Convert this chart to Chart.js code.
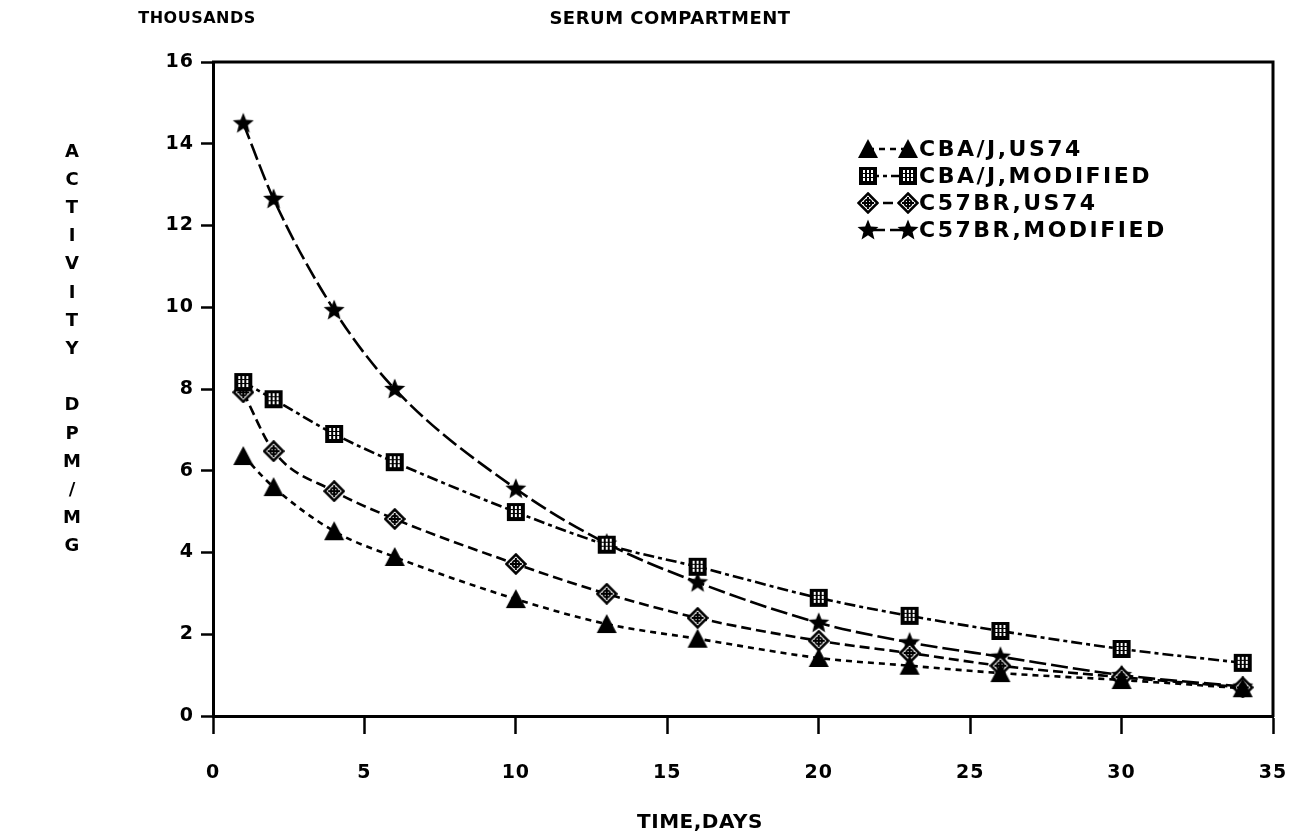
<!DOCTYPE html>
<html>
<head>
<meta charset="utf-8">
<script src="https://cdn.jsdelivr.net/npm/chart.js@4.4.0/dist/chart.umd.min.js"></script>
<style>
    html, body {margin: 0; padding: 0; background: #fff;}
    canvas {display: block;}
</style>
</head>
<body>
<canvas id="serumChart" width="1299" height="839"></canvas>
<script>
const days = [1, 2, 4, 6, 10, 13, 16, 20, 23, 26, 30, 34];
const cbaUs74 = [6.36, 5.6, 4.52, 3.89, 2.86, 2.25, 1.89, 1.42, 1.23, 1.05, 0.88, 0.68];
const cbaModified = [8.17, 7.75, 6.9, 6.21, 4.99, 4.19, 3.65, 2.89, 2.45, 2.08, 1.64, 1.3];
const c57Us74 = [7.92, 6.48, 5.5, 4.82, 3.72, 2.99, 2.4, 1.84, 1.54, 1.23, 0.95, 0.7];
const c57Modified = [14.5, 12.65, 9.93, 8.0, 5.56, 4.22, 3.27, 2.28, 1.8, 1.45, 1.0, 0.72];

const seriesNames = ["CBA/J,US74", "CBA/J,MODIFIED", "C57BR,US74", "C57BR,MODIFIED"];
const xTicks = [0, 5, 10, 15, 20, 25, 30, 35];
const yTicks = [0, 2, 4, 6, 8, 10, 12, 14, 16];

const FONT = "'DejaVu Sans', sans-serif";

function makeMarker(kind) {
    const c = document.createElement("canvas");
    c.width = 22;
    c.height = 22;
    const g = c.getContext("2d");
    g.fillStyle = "#000";
    g.strokeStyle = "#000";
    if (kind === "triangle") {
        g.beginPath();
        g.moveTo(11, 1);
        g.lineTo(21, 20);
        g.lineTo(1, 20);
        g.closePath();
        g.fill();
    } else if (kind === "square") {
        g.fillRect(2, 2, 18, 18);
        g.fillStyle = "#fff";
        for (let i = 0; i < 3; i++) {
            for (let j = 0; j < 3; j++) {
                g.fillRect(6 + i * 4, 5 + j * 4, 2, 3);
            }
        }
    } else if (kind === "diamond") {
        g.lineWidth = 2.5;
        g.fillStyle = "#fff";
        g.beginPath();
        g.moveTo(11, 1.5);
        g.lineTo(20.5, 11);
        g.lineTo(11, 20.5);
        g.lineTo(1.5, 11);
        g.closePath();
        g.fill();
        g.stroke();
        g.beginPath();
        g.arc(11, 11, 3.5, 0, Math.PI * 2);
        g.moveTo(11, 5);
        g.lineTo(11, 17);
        g.moveTo(5, 11);
        g.lineTo(17, 11);
        g.lineWidth = 2;
        g.stroke();
    } else {
        g.beginPath();
        for (let k = 0; k < 10; k++) {
            const r = k % 2 === 0 ? 11 : 4.8;
            const a = -Math.PI / 2 + k * Math.PI / 5;
            const px = 11 + r * Math.cos(a);
            const py = 11.5 + r * Math.sin(a);
            if (k === 0) g.moveTo(px, py); else g.lineTo(px, py);
        }
        g.closePath();
        g.fill();
    }
    return c;
}

function toPoints(values) {
    return values.map((v, i) => ({x: days[i], y: v}));
}

function makeSet(label, values, kind, dash) {
    return {
        label: label,
        data: toPoints(values),
        borderColor: "#000",
        backgroundColor: "#000",
        borderWidth: 2.6,
        borderDash: dash,
        pointStyle: makeMarker(kind),
        pointRadius: 10,
        cubicInterpolationMode: "monotone",
        tension: 0.4
    };
}

// text drawn by hand: titles, stacked y label and the two-marker legend
const textPlugin = {
    id: "textPlugin",
    beforeDraw(chart) {
        chart.ctx.letterSpacing = "1px";
    },
    afterDraw(chart) {
        const ctx = chart.ctx;
        const area = chart.chartArea;
        ctx.save();
        ctx.fillStyle = "#000";
        ctx.strokeStyle = "#000";

        // frame top + right
        ctx.lineWidth = 3;
        ctx.setLineDash([]);
        ctx.beginPath();
        ctx.moveTo(area.left - 1, area.top);
        ctx.lineTo(area.right, area.top);
        ctx.lineTo(area.right, area.bottom + 1);
        ctx.stroke();

        ctx.textBaseline = "middle";
        ctx.textAlign = "center";
        ctx.font = "bold 16px " + FONT;
        ctx.letterSpacing = "0.5px";
        ctx.fillText("THOUSANDS", 197, 19);
        ctx.font = "bold 18px " + FONT;
        ctx.letterSpacing = "0.5px";
        ctx.fillText("SERUM COMPARTMENT", 670, 19);
        ctx.font = "bold 20px " + FONT;
        ctx.letterSpacing = "0.5px";
        ctx.fillText("TIME,DAYS", 700, 823);

        ctx.font = "bold 18px " + FONT;
        ctx.letterSpacing = "0px";
        const stacked = "ACTIVITY DPM/MG";
        for (let i = 0; i < stacked.length; i++) {
            ctx.fillText(stacked[i], 72, 152 + i * 28.2);
        }

        // legend
        ctx.textAlign = "left";
        ctx.font = "bold 22px " + FONT;
        ctx.letterSpacing = "2.5px";
        chart.data.datasets.forEach((ds, i) => {
            const y = 149 + i * 27;
            const x1 = 868;
            const x2 = 908;
            ctx.lineWidth = ds.borderWidth;
            ctx.setLineDash(ds.borderDash);
            ctx.beginPath();
            ctx.moveTo(x1, y);
            ctx.lineTo(x2, y);
            ctx.stroke();
            ctx.setLineDash([]);
            const m = ds.pointStyle;
            ctx.drawImage(m, x1 - m.width / 2, y - m.height / 2);
            ctx.drawImage(m, x2 - m.width / 2, y - m.height / 2);
            ctx.fillText(ds.label, 919, y + 1);
        });
        ctx.restore();
    }
};

const datasets = [
    makeSet(seriesNames[0], cbaUs74, "triangle", [6, 5]),
    makeSet(seriesNames[1], cbaModified, "square", [11, 4, 4, 4]),
    makeSet(seriesNames[2], c57Us74, "diamond", [10, 5]),
    makeSet(seriesNames[3], c57Modified, "star", [17, 5])
];

new Chart(document.getElementById("serumChart").getContext("2d"), {
    type: "line",
    data: {datasets: datasets},
    plugins: [textPlugin],
    options: {
        responsive: false,
        animation: false,
        devicePixelRatio: 1,
        layout: {padding: {left: 0, top: 62, right: 26, bottom: 0}},
        plugins: {
            legend: {display: false},
            title: {display: false},
            tooltip: {enabled: false}
        },
        scales: {
            x: {
                type: "linear",
                min: 0,
                max: 35,
                afterFit: s => { s.height = 123; s.paddingLeft = 0; s.paddingRight = 0; },
                afterBuildTicks: s => { s.ticks = xTicks.map(v => ({value: v})); },
                grid: {drawOnChartArea: false, drawTicks: true, tickLength: 18, tickWidth: 2.5, color: "#000"},
                border: {display: true, width: 3, color: "#000"},
                ticks: {color: "#000", padding: 28, maxRotation: 0, font: {family: FONT, size: 19, weight: "bold"}}
            },
            y: {
                min: 0,
                max: 16,
                afterFit: s => { s.width = 213; s.paddingTop = 0; s.paddingBottom = 0; },
                afterBuildTicks: s => { s.ticks = yTicks.map(v => ({value: v})); },
                grid: {drawOnChartArea: false, drawTicks: true, tickLength: 12, tickWidth: 2.5, color: "#000"},
                border: {display: true, width: 3, color: "#000"},
                ticks: {color: "#000", padding: 7, font: {family: FONT, size: 19, weight: "bold"}}
            }
        }
    }
});
</script>
</body>
</html>
